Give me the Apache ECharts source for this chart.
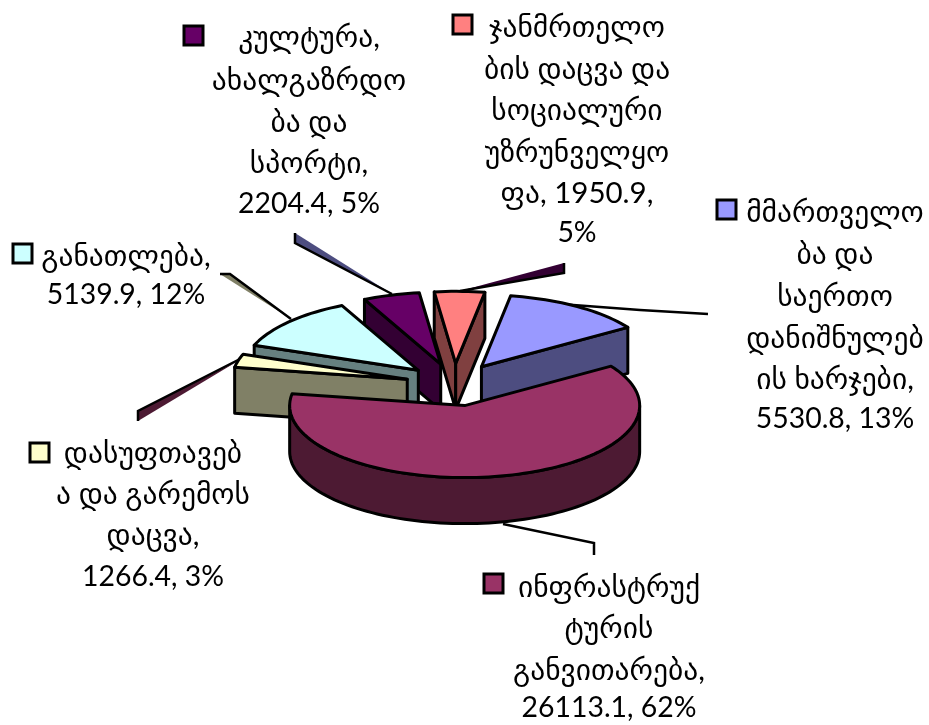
<!DOCTYPE html>
<html><head><meta charset="utf-8">
<style>html,body{margin:0;padding:0;background:#fff}#c{width:929px;height:725px}</style>
<script src="https://cdn.jsdelivr.net/npm/echarts@6/dist/echarts.min.js"></script></head>
<body><div id="c"></div>
<script>
// ---- data ----
const categories = ['mgmt', 'infra', 'sanitation', 'education', 'culture', 'health'];
const labelLines = [
  ['მმართველო', 'ბა და', 'საერთო', 'დანიშნულებ', 'ის ხარჯები,', '5530.8, 13%'],
  ['ინფრასტრუქ', 'ტურის', 'განვითარება,', '26113.1, 62%'],
  ['დასუფთავებ', 'ა და გარემოს', 'დაცვა,', '1266.4, 3%'],
  ['განათლება,', '5139.9, 12%'],
  ['კულტურა,', 'ახალგაზრდო', 'ბა და', 'სპორტი,', '2204.4, 5%'],
  ['ჯანმრთელო', 'ბის დაცვა და', 'სოციალური', 'უზრუნველყო', 'ფა, 1950.9,', '5%']
];
const values = [5530.8, 26113.1, 1266.4, 5139.9, 2204.4, 1950.9];

// ---- styles and layout ----
const topColors = ['#9999FF', '#993366', '#FFFFCC', '#CCFFFF', '#660066', '#FF8080'];
const sideColors = ['#4D4D80', '#4D1A33', '#808066', '#668080', '#330033', '#804040'];
const pie = {cx: 454.6, cy: 384.7, a: 175, b: 72, depth: 46, explode: 49, explodeSquash: 0.436, startDeg: 9.6};
const drawOrder = [5, 0, 4, 3, 2, 1];
const lineY = [
  [212, 254, 296, 338, 379, 419],
  [587, 628, 670, 708],
  [453, 494, 535, 577],
  [256, 295],
  [37, 80, 122, 163, 204],
  [27, 69, 110, 152, 193, 233]
];
const lineX = [835, 609, 153, 126, 309, 577];
const keyPos = [[717, 200], [484, 574], [30, 443], [13, 244], [184, 26], [453, 15]];
// leader lines and the thin filled wedges Excel left beside them
const leaders = [
  {line: [[560, 304], [640, 310], [708, 314]]},
  {line: [[503, 524], [594, 543], [594, 555]]},
  {line: [[138, 421], [138, 411], [240, 359]], wedge: [[138, 411], [138, 421], [238, 361]], fill: '#4D1A33'},
  {line: [[220, 274], [230, 274], [291, 319]], wedge: [[220, 274], [230, 274], [291, 319]], fill: '#808066'},
  {line: [[295, 233], [295, 243], [392, 294]], wedge: [[295, 233], [295, 243], [392, 294]], fill: '#4D4D80'},
  {line: [[564, 263], [564, 273], [460, 291]], wedge: [[564, 263], [564, 273], [460, 291]], fill: '#330033'}
];
const textFont = 'Lato, "DejaVu Sans", sans-serif';
const edge = {stroke: '#000', lineWidth: 3, lineJoin: 'round'};

// ---- geometry from values ----
const total = values.reduce((s, v) => s + v, 0);
const rad = d => d * Math.PI / 180;
let acc = pie.startDeg;
const slices = values.map(v => {
  const s = acc; acc += v / total * 360;
  return {start: s, end: acc, mid: (s + acc) / 2};
});
function onRim(vx, vy, deg) {
  return [vx + pie.a * Math.sin(rad(deg)), vy - pie.b * Math.cos(rad(deg))];
}
function arcPts(vx, vy, d0, d1) {
  const n = Math.max(2, Math.ceil(Math.abs(d1 - d0) / 2)), pts = [];
  for (let i = 0; i <= n; i++) pts.push(onRim(vx, vy, d0 + (d1 - d0) * i / n));
  return pts;
}
const poly = (points, fill) => ({type: 'polygon', shape: {points}, style: Object.assign({fill}, edge)});
const down = p => [p[0], p[1] + pie.depth];

function renderSlice(params, api) {
  const i = drawOrder[params.dataIndex];
  const sl = slices[i], c = [];
  const vx = pie.cx + pie.explode * Math.sin(rad(sl.mid));
  const vy = pie.cy - pie.explode * pie.explodeSquash * Math.cos(rad(sl.mid));
  const v = [vx, vy], side = sideColors[i];
  const ps = onRim(vx, vy, sl.start), pe = onRim(vx, vy, sl.end);
  if (Math.sin(rad(sl.start)) < 0) c.push(poly([v, ps, down(ps), down(v)], side));
  if (Math.sin(rad(sl.end)) > 0) c.push(poly([v, pe, down(pe), down(v)], side));
  // outer wall: only the part of the rim on the viewer's side
  const lo = Math.max(sl.start, 90), hi = Math.min(sl.end, 270);
  if (hi > lo) {
    const rim = arcPts(vx, vy, lo, hi);
    c.push(poly(rim.concat(rim.map(down).reverse()), side));
  }
  c.push(poly([v].concat(arcPts(vx, vy, sl.start, sl.end)), topColors[i]));
  return {type: 'group', children: c};
}
function renderLabel(params, api) {
  const i = params.dataIndex, c = [];
  c.push({type: 'rect', shape: {x: keyPos[i][0], y: keyPos[i][1], width: 19, height: 19},
          style: {fill: topColors[i], stroke: '#000', lineWidth: 3}});
  labelLines[i].forEach((t, j) => {
    const size = /[\u10A0-\u10FF]/.test(t) ? 29.5 : 28.4;
    c.push({type: 'text', x: lineX[i], y: lineY[i][j],
      style: {text: t, font: size + 'px ' + textFont, fill: '#000', textAlign: 'center', textVerticalAlign: 'middle'}});
  });
  return {type: 'group', children: c};
}
function renderLeader(params, api) {
  const l = leaders[params.dataIndex], c = [];
  if (l.wedge) c.push({type: 'polygon', shape: {points: l.wedge}, style: {fill: l.fill}});
  c.push({type: 'polyline', shape: {points: l.line}, style: {fill: null, stroke: '#000', lineWidth: 2.5}});
  return {type: 'group', children: c};
}

const chart = echarts.init(document.getElementById('c'));
chart.setOption({
  animation: false,
  series: [
    {type: 'custom', coordinateSystem: 'none', silent: true, z: 1, renderItem: renderLeader, data: leaders.map((_, i) => i)},
    {type: 'custom', coordinateSystem: 'none', silent: true, z: 2, renderItem: renderSlice, data: drawOrder.map(i => values[i])},
    {type: 'custom', coordinateSystem: 'none', silent: true, z: 3, renderItem: renderLabel, data: categories.map((n, i) => ({name: n, value: values[i]}))}
  ]
});
</script></body></html>
